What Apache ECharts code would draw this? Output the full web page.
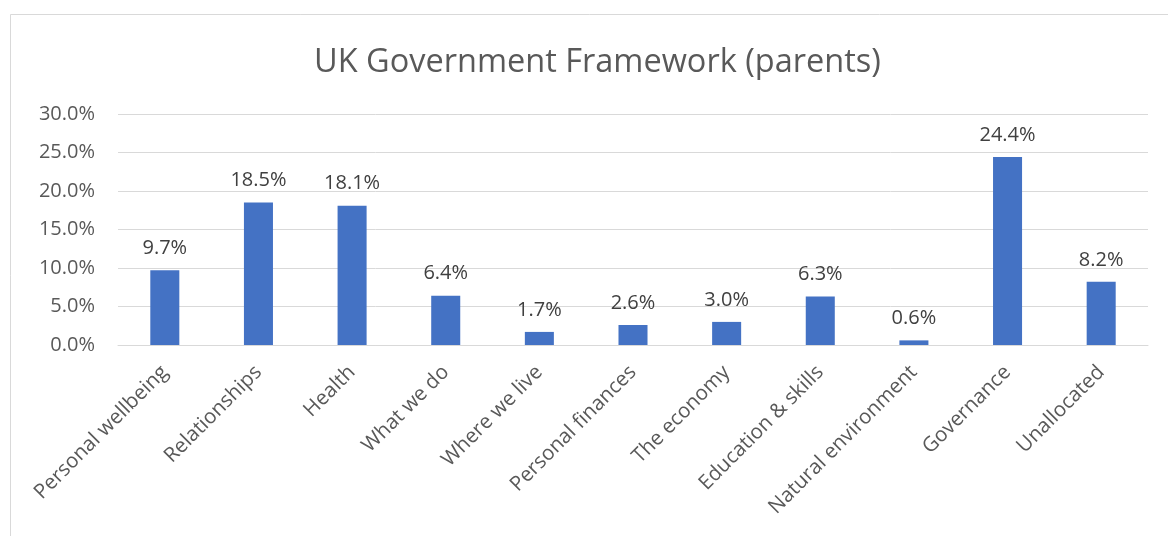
<!DOCTYPE html>
<html>
<head>
<meta charset="utf-8">
<script src="https://cdn.jsdelivr.net/npm/echarts@6/dist/echarts.min.js"></script>
<style>
  html, body { margin: 0; padding: 0; background: #ffffff; }
  #chart { width: 1168px; height: 536px; }
</style>
</head>
<body>
<div id="chart"></div>
<script>
// Share of responses per framework domain (percent)
const categories = [
  'Personal wellbeing', 'Relationships', 'Health', 'What we do', 'Where we live',
  'Personal finances', 'The economy', 'Education & skills', 'Natural environment',
  'Governance', 'Unallocated'
];
const shares = [9.7, 18.5, 18.1, 6.4, 1.7, 2.6, 3.0, 6.3, 0.6, 24.4, 8.2];
const yTicks = { min: 0, max: 30, step: 5 };

const FONT = '"Open Sans", sans-serif';
const chart = echarts.init(document.getElementById('chart'), null, { renderer: 'canvas' });

chart.setOption({
  backgroundColor: '#ffffff',
  animation: false,
  title: {
    text: 'UK Government Framework (parents)',
    left: 309,
    top: 41,
    textStyle: { fontFamily: FONT, fontSize: 32.5, fontWeight: 'normal', color: '#595959' }
  },
  graphic: [{
    type: 'rect',
    shape: { x: 10.5, y: 14.5, width: 1200, height: 600 },
    style: { fill: 'none', stroke: '#d9d9d9', lineWidth: 1 },
    silent: true
  }],
  grid: { left: 118, right: 20, top: 114, bottom: 191, containLabel: false },
  xAxis: {
    type: 'category',
    data: categories,
    axisLine: { lineStyle: { color: '#d9d9d9', width: 1 } },
    axisTick: { show: false },
    axisLabel: {
      interval: 0,
      rotate: 45,
      margin: 24,
      fontFamily: FONT,
      fontSize: 20.5,
      color: '#595959'
    }
  },
  yAxis: {
    type: 'value',
    min: yTicks.min,
    max: yTicks.max,
    interval: yTicks.step,
    axisLine: { show: false },
    axisTick: { show: false },
    splitLine: { lineStyle: { color: '#d9d9d9', width: 1 } },
    axisLabel: {
      margin: 23,
      fontFamily: FONT,
      fontSize: 20,
      color: '#595959',
      formatter: v => v.toFixed(1) + '%'
    }
  },
  series: [{
    type: 'bar',
    data: shares,
    barWidth: '31%',
    itemStyle: { color: '#4472c4' },
    label: {
      show: true,
      position: 'top',
      distance: 12,
      fontFamily: FONT,
      fontSize: 20,
      color: '#404040',
      formatter: p => p.value.toFixed(1) + '%'
    }
  }]
});
</script>
</body>
</html>
